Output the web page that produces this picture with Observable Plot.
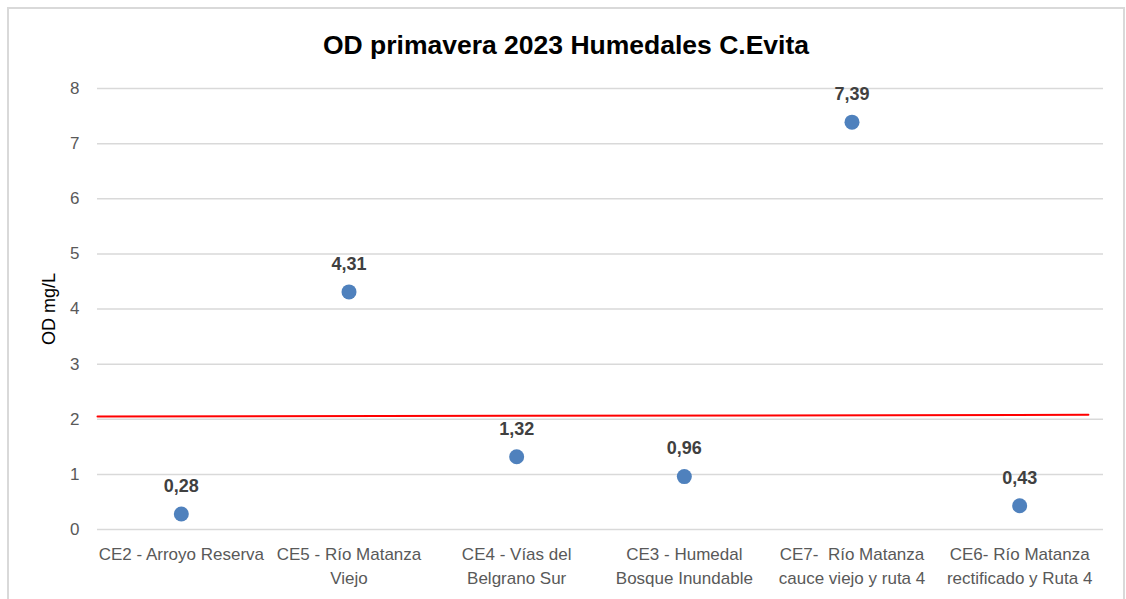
<!DOCTYPE html>
<html><head><meta charset="utf-8">
<script src="https://cdn.jsdelivr.net/npm/d3@7"></script>
<script src="https://cdn.jsdelivr.net/npm/@observablehq/plot@0.6"></script>
<style>
body{margin:0;background:#fff;width:1126px;height:599px;overflow:hidden;position:relative;font-family:"Liberation Sans",Arial,sans-serif;}
#frame{position:absolute;left:7px;top:7px;width:1118px;height:640px;border:2px solid #d9d9d9;box-sizing:border-box;}
#title{position:absolute;left:0;top:29px;width:1132px;text-align:center;font-weight:bold;font-size:26.5px;color:#000;line-height:32px;}
#chart{position:absolute;left:0;top:70px;}
</style></head><body>
<div id="frame"></div>
<div id="title">OD primavera 2023 Humedales C.Evita</div>
<div id="chart"></div>
<script>
const categories = ["CE2","CE5","CE4","CE3","CE7","CE6"];
const tickLabels = [
  "CE2 - Arroyo Reserva",
  "CE5 - Río Matanza\nViejo",
  "CE4 - Vías del\nBelgrano Sur",
  "CE3 - Humedal\nBosque Inundable",
  "CE7-  Río Matanza\ncauce viejo y ruta 4",
  "CE6- Río Matanza\nrectificado y Ruta 4"
];
const values = [0.28, 4.31, 1.32, 0.96, 7.39, 0.43];
const yTicks = [0, 1, 2, 3, 4, 5, 6, 7, 8];
const limitX = [-0.5, 5.41];
const limitY = [2.05, 2.08];
const yLabel = "OD mg/L";

const data = categories.map((c, i) => ({i, cat: c, v: values[i]}));
const limit = limitX.map((x, k) => ({x, y: limitY[k]}));
const fmt = v => v.toFixed(2).replace(".", ",");
const font = '"Liberation Sans", Arial, sans-serif';

const plot = Plot.plot({
  width: 1126, height: 529,
  marginTop: 18, marginBottom: 70, marginLeft: 97, marginRight: 23,
  style: {fontFamily: font, fontSize: "17px", color: "#595959", background: "transparent", overflow: "visible"},
  x: {domain: [-0.5, 5.5], axis: null},
  y: {domain: [0, 8], axis: null},
  marks: [
    Plot.gridY(yTicks, {stroke: "#d9d9d9", strokeOpacity: 1, strokeWidth: 1.5}),
    Plot.axisY(yTicks, {tickSize: 0, tickPadding: 18, label: null, tickFormat: d => String(d), fontSize: 17, fill: "#595959"}),
    Plot.axisX(d3.range(categories.length), {tickSize: 0, tickPadding: 14, label: null, tickFormat: i => tickLabels[i], lineHeight: 1.4, fontSize: 17, fill: "#595959"}),
    Plot.line(limit, {x: "x", y: "y", stroke: "#ff0000", strokeWidth: 2}),
    Plot.dot(data, {x: "i", y: "v", r: 7.5, fill: "#4f81bd", stroke: null}),
    Plot.text(data, {x: "i", y: "v", text: d => fmt(d.v), dy: -28, fontWeight: "bold", fill: "#404040", fontSize: 18}),
    Plot.text([yLabel], {frameAnchor: "left", rotate: -90, textAnchor: "middle", dx: -48, fill: "#000", fontSize: 18})
  ]
});
document.getElementById("chart").appendChild(plot);
</script>
</body></html>
